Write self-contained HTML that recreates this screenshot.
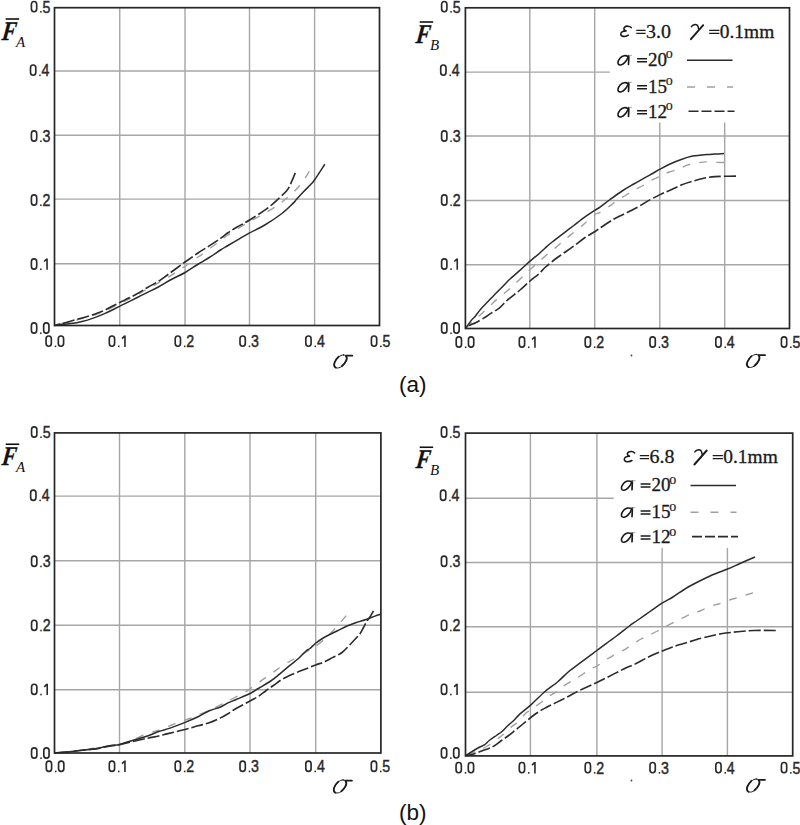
<!DOCTYPE html>
<html><head><meta charset="utf-8"><title>Force vs sigma charts</title>
<style>
html,body{margin:0;padding:0;background:#fff;}
body{width:800px;height:825px;overflow:hidden;position:relative;}
svg{position:absolute;left:0;top:0;display:block;}
.tk{font-family:"Liberation Sans",sans-serif;font-size:16px;fill:#2a2a2a;stroke:#2a2a2a;stroke-width:0.45px;}
.lg{font-family:"Liberation Serif",serif;font-size:18.5px;fill:#1a1a1a;stroke:#1a1a1a;stroke-width:0.3px;}
.gk{font-family:"Liberation Serif",serif;font-style:italic;font-size:20px;fill:#1e1e1e;}
.ab{font-family:"Liberation Sans",sans-serif;font-size:22.5px;fill:#111;}
</style></head><body>
<svg width="800" height="825" viewBox="0 0 800 825">

<path d="M119.75 7.70V325.50M185.00 7.70V325.50M249.50 7.70V325.50M314.60 7.70V325.50M54.50 263.70H379.50M54.50 199.10H379.50M54.50 135.20H379.50M54.50 71.00H379.50" stroke="#a6a6a6" stroke-width="1.4" fill="none"/>
<path d="M309.40 171.25C308.46 172.75 306.00 177.16 303.75 180.25C301.50 183.34 298.71 186.84 295.90 189.80C293.09 192.76 289.72 195.60 286.90 198.00C284.08 200.40 282.75 201.62 279.00 204.20C275.25 206.78 270.02 210.18 264.40 213.50C258.77 216.82 251.44 220.43 245.25 224.10C239.06 227.77 232.00 232.27 227.25 235.50C222.50 238.73 219.50 241.45 216.75 243.50C214.00 245.55 213.31 245.90 210.75 247.80C208.19 249.70 204.03 253.03 201.40 254.90C198.78 256.77 197.69 257.13 195.00 259.00C192.31 260.87 189.54 263.17 185.25 266.10C180.96 269.03 173.17 274.13 169.25 276.60C165.33 279.07 164.38 279.40 161.75 280.90C159.12 282.40 156.12 284.15 153.50 285.60C150.88 287.05 148.88 287.95 146.00 289.60C143.12 291.25 139.75 293.60 136.25 295.50C132.75 297.40 128.75 299.13 125.00 301.00C121.25 302.87 117.17 305.00 113.75 306.70C110.33 308.40 107.29 309.98 104.50 311.20C101.71 312.42 100.12 312.95 97.00 314.00C93.88 315.05 89.50 316.40 85.75 317.50C82.00 318.60 78.88 319.47 74.50 320.60C70.12 321.73 62.83 323.48 59.50 324.30C56.17 325.12 55.33 325.30 54.50 325.50" stroke="#a0a0a0" stroke-width="1.4" fill="none" stroke-dasharray="8 9"/>
<path d="M54.50 325.50C54.96 325.40 54.54 325.22 57.25 324.90C59.96 324.58 66.62 324.17 70.75 323.60C74.88 323.03 78.25 322.42 82.00 321.50C85.75 320.58 89.50 319.42 93.25 318.10C97.00 316.78 101.08 315.08 104.50 313.60C107.92 312.12 110.33 310.92 113.75 309.25C117.17 307.58 121.25 305.48 125.00 303.60C128.75 301.73 132.50 299.87 136.25 298.00C140.00 296.13 143.75 294.27 147.50 292.40C151.25 290.52 154.71 288.94 158.75 286.75C162.79 284.56 167.36 281.62 171.75 279.25C176.14 276.88 180.72 275.00 185.10 272.50C189.47 270.00 193.97 266.75 198.00 264.25C202.03 261.75 205.50 259.88 209.25 257.50C213.00 255.12 217.38 252.00 220.50 250.00C223.62 248.00 225.00 247.28 228.00 245.50C231.00 243.72 234.97 241.37 238.50 239.30C242.03 237.23 244.88 235.44 249.20 233.10C253.52 230.76 259.06 228.43 264.40 225.25C269.74 222.07 276.57 217.56 281.25 214.00C285.93 210.44 289.88 206.43 292.50 203.90C295.12 201.37 295.12 200.87 297.00 198.80C298.88 196.73 301.50 193.84 303.75 191.50C306.00 189.16 308.71 186.67 310.50 184.75C312.29 182.83 312.12 183.42 314.50 180.00C316.88 176.58 323.08 166.88 324.80 164.25" stroke="#2b2b2b" stroke-width="1.5" fill="none"/>
<path d="M295.30 172.90C294.46 174.88 291.65 181.83 290.25 184.75C288.85 187.67 288.77 188.15 286.90 190.40C285.02 192.65 282.38 195.17 279.00 198.25C275.62 201.33 271.57 205.24 266.60 208.90C261.63 212.56 254.26 217.10 249.20 220.20C244.14 223.30 239.78 225.41 236.25 227.50C232.72 229.59 230.62 230.93 228.00 232.75C225.38 234.57 223.62 236.21 220.50 238.40C217.38 240.59 213.00 243.47 209.25 245.90C205.50 248.33 202.03 250.32 198.00 253.00C193.97 255.68 190.10 258.42 185.10 262.00C180.10 265.58 172.39 271.32 168.00 274.50C163.61 277.68 162.17 278.93 158.75 281.10C155.33 283.27 151.25 285.31 147.50 287.50C143.75 289.69 140.00 292.18 136.25 294.25C132.50 296.32 128.75 298.02 125.00 299.90C121.25 301.77 117.17 303.77 113.75 305.50C110.33 307.23 107.29 308.96 104.50 310.25C101.71 311.54 100.12 312.12 97.00 313.25C93.88 314.38 89.50 315.88 85.75 317.00C82.00 318.12 77.62 319.12 74.50 320.00C71.38 320.88 69.50 321.57 67.00 322.25C64.50 322.93 61.58 323.56 59.50 324.10C57.42 324.64 55.33 325.27 54.50 325.50" stroke="#2b2b2b" stroke-width="1.6" fill="none" stroke-dasharray="12 3"/>
<rect x="54.50" y="7.70" width="325.00" height="317.80" fill="none" stroke="#262626" stroke-width="1.7"/>
<rect x="31.40" y="322.90" width="5.3" height="10.2" rx="2.5" ry="2.9" fill="none" stroke="#2a2a2a" stroke-width="1.65"/><rect x="40.10" y="332.45" width="1.5" height="1.6" fill="#2a2a2a"/><rect x="43.65" y="322.90" width="5.3" height="10.2" rx="2.5" ry="2.9" fill="none" stroke="#2a2a2a" stroke-width="1.65"/>
<rect x="31.40" y="258.90" width="5.3" height="10.2" rx="2.5" ry="2.9" fill="none" stroke="#2a2a2a" stroke-width="1.65"/><rect x="40.10" y="268.45" width="1.5" height="1.6" fill="#2a2a2a"/><path d="M47.05 258.40V269.80M46.90 258.80L44.10 261.50" stroke="#2a2a2a" stroke-width="1.6" fill="none"/>
<rect x="31.40" y="194.90" width="5.3" height="10.2" rx="2.5" ry="2.9" fill="none" stroke="#2a2a2a" stroke-width="1.65"/><rect x="40.10" y="204.45" width="1.5" height="1.6" fill="#2a2a2a"/><text class="tk" transform="scale(0.885 1)" x="48.00" y="206.20">2</text>
<rect x="31.40" y="130.90" width="5.3" height="10.2" rx="2.5" ry="2.9" fill="none" stroke="#2a2a2a" stroke-width="1.65"/><rect x="40.10" y="140.45" width="1.5" height="1.6" fill="#2a2a2a"/><text class="tk" transform="scale(0.885 1)" x="48.00" y="142.20">3</text>
<rect x="30.50" y="65.00" width="5.3" height="10.2" rx="2.5" ry="2.9" fill="none" stroke="#2a2a2a" stroke-width="1.65"/><rect x="39.20" y="74.55" width="1.5" height="1.6" fill="#2a2a2a"/><text class="tk" transform="scale(0.885 1)" x="46.98" y="76.30">4</text>
<rect x="31.40" y="1.50" width="5.3" height="10.2" rx="2.5" ry="2.9" fill="none" stroke="#2a2a2a" stroke-width="1.65"/><rect x="40.10" y="11.05" width="1.5" height="1.6" fill="#2a2a2a"/><text class="tk" transform="scale(0.885 1)" x="48.00" y="12.80">5</text>
<rect x="46.05" y="336.00" width="5.3" height="10.2" rx="2.5" ry="2.9" fill="none" stroke="#2a2a2a" stroke-width="1.65"/><rect x="54.75" y="345.55" width="1.5" height="1.6" fill="#2a2a2a"/><rect x="58.30" y="336.00" width="5.3" height="10.2" rx="2.5" ry="2.9" fill="none" stroke="#2a2a2a" stroke-width="1.65"/>
<rect x="109.30" y="336.00" width="5.3" height="10.2" rx="2.5" ry="2.9" fill="none" stroke="#2a2a2a" stroke-width="1.65"/><rect x="118.00" y="345.55" width="1.5" height="1.6" fill="#2a2a2a"/><path d="M124.95 335.50V346.90M124.80 335.90L122.00 338.60" stroke="#2a2a2a" stroke-width="1.6" fill="none"/>
<rect x="175.20" y="336.00" width="5.3" height="10.2" rx="2.5" ry="2.9" fill="none" stroke="#2a2a2a" stroke-width="1.65"/><rect x="183.90" y="345.55" width="1.5" height="1.6" fill="#2a2a2a"/><text class="tk" transform="scale(0.885 1)" x="210.49" y="347.30">2</text>
<rect x="240.00" y="336.00" width="5.3" height="10.2" rx="2.5" ry="2.9" fill="none" stroke="#2a2a2a" stroke-width="1.65"/><rect x="248.70" y="345.55" width="1.5" height="1.6" fill="#2a2a2a"/><text class="tk" transform="scale(0.885 1)" x="283.71" y="347.30">3</text>
<rect x="305.80" y="336.00" width="5.3" height="10.2" rx="2.5" ry="2.9" fill="none" stroke="#2a2a2a" stroke-width="1.65"/><rect x="314.50" y="345.55" width="1.5" height="1.6" fill="#2a2a2a"/><text class="tk" transform="scale(0.885 1)" x="358.06" y="347.30">4</text>
<rect x="371.40" y="336.00" width="5.3" height="10.2" rx="2.5" ry="2.9" fill="none" stroke="#2a2a2a" stroke-width="1.65"/><rect x="380.10" y="345.55" width="1.5" height="1.6" fill="#2a2a2a"/><text class="tk" transform="scale(0.885 1)" x="432.18" y="347.30">5</text>
<text transform="translate(1.20 40.20) skewX(-7) scale(0.8 1)" style="font-family:'Liberation Serif',serif;font-weight:bold;font-style:italic;font-size:27px;fill:#111;stroke:#111;stroke-width:0.3px">F</text>
<path d="M5.70 19.00H19.20" stroke="#111" stroke-width="1.6"/>
<text x="16.00" y="47.00" style="font-family:'Liberation Serif',serif;font-style:italic;font-size:15px;fill:#111">A</text>
<g transform="translate(333.50 354.00)" fill="none" stroke="#1a1a1a" stroke-linecap="round"><path d="M10 0.9C6.5 0.9 2.6 4.6 1.1 8.5C-0.1 11.8 1.3 14.1 4 14C7.5 13.9 11 10.5 12.7 6.6C13.9 3.8 13 0.9 10 0.9Z" stroke-width="1.0"/><path d="M5.2 2.7C3.2 4.6 1.8 6.7 1.1 8.5C0.3 10.8 0.7 12.8 2.3 13.6" stroke-width="1.8"/><path d="M8.3 12.2C10.4 10.4 11.9 8.5 12.7 6.6C13.5 4.7 13.4 3.1 12.5 2" stroke-width="1.8"/><path d="M12.4 1.7L18.8 1.7" stroke-width="1.7"/></g>
<path d="M529.80 7.80V328.50M594.70 7.80V328.50M659.80 122.50V328.50M724.70 122.50V328.50M465.40 264.80H789.50M465.40 200.50H789.50M465.40 136.00H789.50M465.40 72.10H610.00" stroke="#a6a6a6" stroke-width="1.4" fill="none"/>
<path d="M724.00 162.50C722.83 162.48 720.12 162.50 717.00 162.40C713.88 162.30 708.52 161.82 705.25 161.90C701.98 161.98 700.40 162.37 697.40 162.90C694.40 163.43 690.32 164.08 687.25 165.10C684.18 166.12 682.12 167.81 679.00 169.00C675.88 170.19 671.50 171.08 668.50 172.25C665.50 173.42 663.85 174.67 661.00 176.00C658.15 177.33 654.38 178.67 651.40 180.25C648.42 181.83 645.98 183.88 643.10 185.50C640.22 187.12 636.78 188.50 634.10 190.00C631.42 191.50 629.93 192.68 627.00 194.50C624.07 196.32 619.25 199.08 616.50 200.90C613.75 202.72 613.25 203.50 610.50 205.40C607.75 207.30 602.50 210.83 600.00 212.30C597.50 213.78 597.88 212.55 595.50 214.25C593.12 215.95 588.43 220.19 585.75 222.50C583.07 224.81 581.90 226.03 579.40 228.10C576.90 230.17 573.32 232.83 570.75 234.90C568.18 236.97 566.38 238.50 564.00 240.50C561.62 242.50 558.88 244.97 556.50 246.90C554.12 248.83 552.18 250.08 549.75 252.10C547.32 254.12 544.15 257.02 541.90 259.00C539.65 260.98 538.75 261.75 536.25 264.00C533.75 266.25 529.40 270.15 526.90 272.50C524.40 274.85 523.67 275.87 521.25 278.10C518.83 280.33 514.82 283.71 512.40 285.90C509.98 288.09 509.05 289.27 506.75 291.25C504.45 293.23 500.99 295.78 498.60 297.80C496.21 299.82 494.79 301.16 492.40 303.40C490.01 305.64 486.55 309.11 484.25 311.25C481.95 313.39 481.73 313.38 478.60 316.25C475.48 319.12 467.68 326.46 465.50 328.50" stroke="#a0a0a0" stroke-width="1.4" fill="none" stroke-dasharray="8 9"/>
<path d="M465.50 328.50C466.43 327.18 469.43 322.70 471.10 320.60C472.77 318.50 473.93 317.77 475.50 315.90C477.07 314.03 478.42 311.78 480.50 309.40C482.58 307.02 485.71 304.00 488.00 301.60C490.29 299.20 491.96 297.35 494.25 295.00C496.54 292.65 499.36 289.95 501.75 287.50C504.14 285.05 506.81 282.07 508.60 280.30C510.39 278.53 509.87 279.24 512.50 276.90C515.13 274.56 521.38 268.97 524.40 266.25C527.42 263.53 528.21 262.64 530.60 260.60C532.99 258.56 536.35 256.07 538.75 254.00C541.15 251.93 542.92 250.07 545.00 248.20C547.08 246.32 548.33 245.10 551.25 242.75C554.17 240.40 558.75 236.97 562.50 234.10C566.25 231.22 570.00 228.37 573.75 225.50C577.50 222.63 581.44 219.47 585.00 216.90C588.56 214.33 592.60 211.73 595.10 210.10C597.60 208.47 597.56 208.82 600.00 207.10C602.44 205.38 606.00 202.47 609.75 199.75C613.50 197.03 618.50 193.38 622.50 190.75C626.50 188.12 630.00 186.19 633.75 184.00C637.50 181.81 641.88 179.35 645.00 177.60C648.12 175.85 650.00 174.90 652.50 173.50C655.00 172.10 657.08 170.78 660.00 169.20C662.92 167.62 666.46 165.62 670.00 164.00C673.54 162.38 677.50 160.82 681.25 159.50C685.00 158.18 689.38 156.82 692.50 156.10C695.62 155.38 697.50 155.47 700.00 155.20C702.50 154.93 705.00 154.68 707.50 154.50C710.00 154.32 712.25 154.25 715.00 154.10C717.75 153.95 722.50 153.68 724.00 153.60" stroke="#2b2b2b" stroke-width="1.5" fill="none"/>
<path d="M736.00 176.10C733.83 176.13 726.50 176.22 723.00 176.30C719.50 176.38 718.21 176.28 715.00 176.60C711.79 176.92 707.50 177.47 703.75 178.25C700.00 179.03 696.25 180.12 692.50 181.25C688.75 182.38 685.00 183.50 681.25 185.00C677.50 186.50 673.54 188.65 670.00 190.25C666.46 191.85 663.67 192.82 660.00 194.60C656.33 196.38 651.75 198.79 648.00 200.90C644.25 203.01 641.38 205.13 637.50 207.25C633.62 209.37 628.75 211.60 624.75 213.60C620.75 215.60 617.62 216.83 613.50 219.25C609.38 221.67 603.07 226.06 600.00 228.10C596.93 230.14 597.60 229.93 595.10 231.50C592.60 233.07 588.56 235.07 585.00 237.50C581.44 239.93 577.50 243.35 573.75 246.10C570.00 248.85 565.62 251.81 562.50 254.00C559.38 256.19 557.92 257.00 555.00 259.25C552.08 261.50 547.71 265.04 545.00 267.50C542.29 269.96 541.25 271.75 538.75 274.00C536.25 276.25 533.12 278.33 530.00 281.00C526.88 283.67 523.04 287.40 520.00 290.00C516.96 292.60 514.07 294.73 511.75 296.60C509.43 298.48 508.18 299.33 506.10 301.25C504.02 303.17 502.06 305.91 499.25 308.10C496.44 310.29 491.33 313.04 489.25 314.40C487.17 315.76 488.94 314.90 486.75 316.25C484.56 317.60 479.02 320.94 476.10 322.50C473.18 324.06 471.02 324.60 469.25 325.60C467.48 326.60 466.12 328.02 465.50 328.50" stroke="#2b2b2b" stroke-width="1.6" fill="none" stroke-dasharray="12 3"/>
<rect x="465.40" y="7.80" width="324.10" height="320.70" fill="none" stroke="#262626" stroke-width="1.7"/>
<rect x="441.60" y="322.90" width="5.3" height="10.2" rx="2.5" ry="2.9" fill="none" stroke="#2a2a2a" stroke-width="1.65"/><rect x="450.30" y="332.45" width="1.5" height="1.6" fill="#2a2a2a"/><rect x="453.85" y="322.90" width="5.3" height="10.2" rx="2.5" ry="2.9" fill="none" stroke="#2a2a2a" stroke-width="1.65"/>
<rect x="441.60" y="258.90" width="5.3" height="10.2" rx="2.5" ry="2.9" fill="none" stroke="#2a2a2a" stroke-width="1.65"/><rect x="450.30" y="268.45" width="1.5" height="1.6" fill="#2a2a2a"/><path d="M457.25 258.40V269.80M457.10 258.80L454.30 261.50" stroke="#2a2a2a" stroke-width="1.6" fill="none"/>
<rect x="441.60" y="194.90" width="5.3" height="10.2" rx="2.5" ry="2.9" fill="none" stroke="#2a2a2a" stroke-width="1.65"/><rect x="450.30" y="204.45" width="1.5" height="1.6" fill="#2a2a2a"/><text class="tk" transform="scale(0.885 1)" x="511.50" y="206.20">2</text>
<rect x="441.60" y="130.90" width="5.3" height="10.2" rx="2.5" ry="2.9" fill="none" stroke="#2a2a2a" stroke-width="1.65"/><rect x="450.30" y="140.45" width="1.5" height="1.6" fill="#2a2a2a"/><text class="tk" transform="scale(0.885 1)" x="511.50" y="142.20">3</text>
<rect x="440.70" y="65.00" width="5.3" height="10.2" rx="2.5" ry="2.9" fill="none" stroke="#2a2a2a" stroke-width="1.65"/><rect x="449.40" y="74.55" width="1.5" height="1.6" fill="#2a2a2a"/><text class="tk" transform="scale(0.885 1)" x="510.49" y="76.30">4</text>
<rect x="441.60" y="1.50" width="5.3" height="10.2" rx="2.5" ry="2.9" fill="none" stroke="#2a2a2a" stroke-width="1.65"/><rect x="450.30" y="11.05" width="1.5" height="1.6" fill="#2a2a2a"/><text class="tk" transform="scale(0.885 1)" x="511.50" y="12.80">5</text>
<rect x="456.20" y="336.90" width="5.3" height="10.2" rx="2.5" ry="2.9" fill="none" stroke="#2a2a2a" stroke-width="1.65"/><rect x="464.90" y="346.45" width="1.5" height="1.6" fill="#2a2a2a"/><rect x="468.45" y="336.90" width="5.3" height="10.2" rx="2.5" ry="2.9" fill="none" stroke="#2a2a2a" stroke-width="1.65"/>
<rect x="519.30" y="336.90" width="5.3" height="10.2" rx="2.5" ry="2.9" fill="none" stroke="#2a2a2a" stroke-width="1.65"/><rect x="528.00" y="346.45" width="1.5" height="1.6" fill="#2a2a2a"/><path d="M534.95 336.40V347.80M534.80 336.80L532.00 339.50" stroke="#2a2a2a" stroke-width="1.6" fill="none"/>
<rect x="585.20" y="336.90" width="5.3" height="10.2" rx="2.5" ry="2.9" fill="none" stroke="#2a2a2a" stroke-width="1.65"/><rect x="593.90" y="346.45" width="1.5" height="1.6" fill="#2a2a2a"/><text class="tk" transform="scale(0.885 1)" x="673.76" y="348.20">2</text>
<rect x="650.00" y="336.90" width="5.3" height="10.2" rx="2.5" ry="2.9" fill="none" stroke="#2a2a2a" stroke-width="1.65"/><rect x="658.70" y="346.45" width="1.5" height="1.6" fill="#2a2a2a"/><text class="tk" transform="scale(0.885 1)" x="746.98" y="348.20">3</text>
<rect x="715.80" y="336.90" width="5.3" height="10.2" rx="2.5" ry="2.9" fill="none" stroke="#2a2a2a" stroke-width="1.65"/><rect x="724.50" y="346.45" width="1.5" height="1.6" fill="#2a2a2a"/><text class="tk" transform="scale(0.885 1)" x="821.33" y="348.20">4</text>
<rect x="781.40" y="336.90" width="5.3" height="10.2" rx="2.5" ry="2.9" fill="none" stroke="#2a2a2a" stroke-width="1.65"/><rect x="790.10" y="346.45" width="1.5" height="1.6" fill="#2a2a2a"/><text class="tk" transform="scale(0.885 1)" x="895.46" y="348.20">5</text>
<text transform="translate(415.20 43.20) skewX(-7) scale(0.8 1)" style="font-family:'Liberation Serif',serif;font-weight:bold;font-style:italic;font-size:27px;fill:#111;stroke:#111;stroke-width:0.3px">F</text>
<path d="M419.70 22.00H433.20" stroke="#111" stroke-width="1.6"/>
<text x="430.00" y="50.00" style="font-family:'Liberation Serif',serif;font-style:italic;font-size:15px;fill:#111">B</text>
<g transform="translate(746.25 353.50)" fill="none" stroke="#1a1a1a" stroke-linecap="round"><path d="M10 0.9C6.5 0.9 2.6 4.6 1.1 8.5C-0.1 11.8 1.3 14.1 4 14C7.5 13.9 11 10.5 12.7 6.6C13.9 3.8 13 0.9 10 0.9Z" stroke-width="1.0"/><path d="M5.2 2.7C3.2 4.6 1.8 6.7 1.1 8.5C0.3 10.8 0.7 12.8 2.3 13.6" stroke-width="1.8"/><path d="M8.3 12.2C10.4 10.4 11.9 8.5 12.7 6.6C13.5 4.7 13.4 3.1 12.5 2" stroke-width="1.8"/><path d="M12.4 1.7L18.8 1.7" stroke-width="1.7"/></g>
<g transform="translate(0.00 0.00)"><path d="M631.2 27.6C629.6 25.8 626.2 25.7 624.6 27.1C623.2 28.4 623.8 30.6 626.6 30.9C622.4 30.8 620.6 32.4 620.8 34.3C621 36.6 625.4 37.2 628.4 35.2" fill="none" stroke="#1a1a1a" stroke-width="1.55" stroke-linecap="round"/><path d="M636.3 30.3H645.6M636.3 33.4H645.6M709.2 30.3H719.4M709.2 33.4H719.4" stroke="#1a1a1a" stroke-width="1.35"/><text class="lg" transform="translate(645.95 37.6) scale(1.08 0.97)">3.0</text><path d="M691.4 26.6C692.8 24.6 695.6 23.9 697.2 25.1C698.2 25.9 698.4 27.4 698.6 28.8" fill="none" stroke="#1a1a1a" stroke-width="1.5" stroke-linecap="round"/><path d="M703.2 25.2L690.9 39.2" fill="none" stroke="#1a1a1a" stroke-width="1.9" stroke-linecap="round"/><text class="lg" transform="translate(719.8 37.6) scale(1.05 0.97)">0.1mm</text><g transform="translate(0 0.00)" fill="none" stroke-linecap="round"><path d="M627.9 56.7C626 55 622.4 55.3 620.2 58C618.2 60.4 617.4 63 618.6 64.4C619.8 65.6 622.6 64.6 624.6 62.6C626.2 61 627.4 59 628.1 57.2" stroke="#1a1a1a" stroke-width="1.6"/><path d="M628.7 55.6C629 58.5 628.6 61.5 628.5 64.4" stroke="#1a1a1a" stroke-width="1.7"/><path d="M629 55.6L631.5 55.3" stroke="#999" stroke-width="0.9"/></g><path d="M637.1 58.75H647M637.1 61.75H647" stroke="#1a1a1a" stroke-width="1.35"/><text class="lg" transform="translate(647.9 65.60) scale(1.03 0.97)">20</text><text class="lg" x="665.8" y="58.30" style="font-size:14px;stroke-width:0.2px">o</text><g transform="translate(0 27.00)" fill="none" stroke-linecap="round"><path d="M627.9 56.7C626 55 622.4 55.3 620.2 58C618.2 60.4 617.4 63 618.6 64.4C619.8 65.6 622.6 64.6 624.6 62.6C626.2 61 627.4 59 628.1 57.2" stroke="#1a1a1a" stroke-width="1.6"/><path d="M628.7 55.6C629 58.5 628.6 61.5 628.5 64.4" stroke="#1a1a1a" stroke-width="1.7"/><path d="M629 55.6L631.5 55.3" stroke="#999" stroke-width="0.9"/></g><path d="M637.1 85.75H647M637.1 88.75H647" stroke="#1a1a1a" stroke-width="1.35"/><text class="lg" transform="translate(647.9 92.60) scale(1.03 0.97)">15</text><text class="lg" x="665.8" y="85.30" style="font-size:14px;stroke-width:0.2px">o</text><g transform="translate(0 52.00)" fill="none" stroke-linecap="round"><path d="M627.9 56.7C626 55 622.4 55.3 620.2 58C618.2 60.4 617.4 63 618.6 64.4C619.8 65.6 622.6 64.6 624.6 62.6C626.2 61 627.4 59 628.1 57.2" stroke="#1a1a1a" stroke-width="1.6"/><path d="M628.7 55.6C629 58.5 628.6 61.5 628.5 64.4" stroke="#1a1a1a" stroke-width="1.7"/><path d="M629 55.6L631.5 55.3" stroke="#999" stroke-width="0.9"/></g><path d="M637.1 110.75H647M637.1 113.75H647" stroke="#1a1a1a" stroke-width="1.35"/><text class="lg" transform="translate(647.9 117.60) scale(1.03 0.97)">12</text><text class="lg" x="665.8" y="110.30" style="font-size:14px;stroke-width:0.2px">o</text><path d="M687 60.3H732.5" stroke="#2b2b2b" stroke-width="1.5"/><path d="M687 87H733" stroke="#a0a0a0" stroke-width="1.5" stroke-dasharray="8 12"/><path d="M688.5 111.3H734.5" stroke="#2b2b2b" stroke-width="1.6" stroke-dasharray="10 3"/></g>
<path d="M119.50 432.90V753.00M184.80 432.90V753.00M250.00 432.90V753.00M315.70 432.90V753.00M54.50 689.70H380.90M54.50 625.30H380.90M54.50 560.80H380.90M54.50 496.10H380.90" stroke="#a6a6a6" stroke-width="1.4" fill="none"/>
<path d="M346.10 615.75C344.67 617.44 340.64 622.39 337.50 625.90C334.36 629.41 329.46 634.53 327.25 636.80C325.04 639.07 326.25 637.88 324.25 639.50C322.25 641.12 317.62 644.82 315.25 646.50C312.88 648.18 312.88 647.88 310.00 649.60C307.12 651.32 301.12 654.98 298.00 656.80C294.88 658.62 294.10 658.87 291.25 660.50C288.40 662.13 283.76 664.73 280.90 666.60C278.04 668.48 276.60 669.95 274.10 671.75C271.60 673.55 268.58 675.52 265.90 677.40C263.22 679.27 260.94 680.88 258.00 683.00C255.06 685.12 250.88 688.35 248.25 690.10C245.62 691.85 244.88 692.06 242.25 693.50C239.62 694.94 235.12 697.38 232.50 698.75C229.88 700.12 229.50 700.19 226.50 701.75C223.50 703.31 217.50 706.60 214.50 708.10C211.50 709.60 211.38 709.56 208.50 710.75C205.62 711.94 200.25 714.00 197.25 715.25C194.25 716.50 193.50 717.12 190.50 718.25C187.50 719.38 182.38 720.88 179.25 722.00C176.12 723.12 174.79 723.79 171.75 725.00C168.71 726.21 163.92 728.17 161.00 729.25C158.08 730.33 157.25 730.50 154.25 731.50C151.25 732.50 145.38 734.38 143.00 735.25C140.62 736.12 141.75 735.96 140.00 736.75C138.25 737.54 135.90 738.76 132.50 740.00C129.10 741.24 123.35 743.27 119.60 744.20C115.85 745.13 116.27 744.62 110.00 745.60C103.73 746.58 91.25 748.87 82.00 750.10C72.75 751.33 59.08 752.52 54.50 753.00" stroke="#a0a0a0" stroke-width="1.4" fill="none" stroke-dasharray="8 9"/>
<path d="M54.50 753.00C56.58 752.85 62.42 752.56 67.00 752.10C71.58 751.64 77.00 750.87 82.00 750.25C87.00 749.63 92.33 749.15 97.00 748.40C101.67 747.65 106.23 746.42 110.00 745.75C113.77 745.08 115.85 745.27 119.60 744.40C123.35 743.52 127.85 741.90 132.50 740.50C137.15 739.10 143.12 737.50 147.50 736.00C151.88 734.50 155.00 732.82 158.75 731.50C162.50 730.18 165.61 729.62 170.00 728.10C174.39 726.58 180.43 724.29 185.10 722.40C189.77 720.51 193.97 718.69 198.00 716.75C202.03 714.81 205.50 712.38 209.25 710.75C213.00 709.12 217.38 708.31 220.50 707.00C223.62 705.69 225.38 704.15 228.00 702.90C230.62 701.65 232.57 701.07 236.25 699.50C239.93 697.93 246.35 695.38 250.10 693.50C253.85 691.62 255.43 690.25 258.75 688.25C262.07 686.25 266.88 683.56 270.00 681.50C273.12 679.44 274.33 678.47 277.50 675.90C280.67 673.33 285.46 669.04 289.00 666.10C292.54 663.16 295.88 660.81 298.75 658.25C301.62 655.69 304.38 652.38 306.25 650.75C308.12 649.12 308.44 649.75 310.00 648.50C311.56 647.25 313.60 644.88 315.60 643.25C317.60 641.62 319.81 640.12 322.00 638.75C324.19 637.38 326.17 636.33 328.75 635.00C331.33 633.67 334.54 632.21 337.50 630.75C340.46 629.29 343.38 627.62 346.50 626.25C349.62 624.88 353.00 623.62 356.25 622.50C359.50 621.38 362.88 620.57 366.00 619.50C369.12 618.43 372.52 616.98 375.00 616.10C377.48 615.23 379.92 614.56 380.90 614.25" stroke="#2b2b2b" stroke-width="1.5" fill="none"/>
<path d="M373.50 610.90C373.00 611.77 371.50 614.54 370.50 616.10C369.50 617.66 368.62 618.43 367.50 620.25C366.38 622.07 365.00 624.75 363.75 627.00C362.50 629.25 361.88 631.25 360.00 633.75C358.12 636.25 355.50 638.88 352.50 642.00C349.50 645.12 345.33 649.90 342.00 652.50C338.67 655.10 335.33 656.08 332.50 657.60C329.67 659.12 327.82 660.37 325.00 661.60C322.18 662.83 318.73 663.81 315.60 665.00C312.48 666.19 309.68 667.38 306.25 668.75C302.82 670.12 299.00 671.50 295.00 673.25C291.00 675.00 285.79 677.25 282.25 679.25C278.71 681.25 276.42 683.38 273.75 685.25C271.08 687.12 268.75 688.69 266.25 690.50C263.75 692.31 261.44 694.35 258.75 696.10C256.06 697.85 254.10 698.81 250.10 701.00C246.10 703.19 238.43 707.12 234.75 709.25C231.07 711.38 230.38 712.31 228.00 713.75C225.62 715.19 223.62 716.40 220.50 717.90C217.38 719.40 213.00 721.44 209.25 722.75C205.50 724.06 202.03 724.62 198.00 725.75C193.97 726.88 190.10 728.19 185.10 729.50C180.10 730.81 172.39 732.52 168.00 733.60C163.61 734.68 162.17 735.23 158.75 736.00C155.33 736.77 151.88 737.32 147.50 738.25C143.12 739.18 137.15 740.51 132.50 741.60C127.85 742.69 123.35 744.08 119.60 744.80C115.85 745.52 113.77 745.27 110.00 745.90C106.23 746.53 101.67 747.88 97.00 748.60C92.33 749.33 87.00 749.67 82.00 750.25C77.00 750.83 71.58 751.64 67.00 752.10C62.42 752.56 56.58 752.85 54.50 753.00" stroke="#2b2b2b" stroke-width="1.6" fill="none" stroke-dasharray="12 3"/>
<rect x="54.50" y="432.90" width="326.40" height="320.10" fill="none" stroke="#262626" stroke-width="1.7"/>
<rect x="31.55" y="747.90" width="5.3" height="10.2" rx="2.5" ry="2.9" fill="none" stroke="#2a2a2a" stroke-width="1.65"/><rect x="40.25" y="757.45" width="1.5" height="1.6" fill="#2a2a2a"/><rect x="43.80" y="747.90" width="5.3" height="10.2" rx="2.5" ry="2.9" fill="none" stroke="#2a2a2a" stroke-width="1.65"/>
<rect x="31.55" y="684.20" width="5.3" height="10.2" rx="2.5" ry="2.9" fill="none" stroke="#2a2a2a" stroke-width="1.65"/><rect x="40.25" y="693.75" width="1.5" height="1.6" fill="#2a2a2a"/><path d="M47.20 683.70V695.10M47.05 684.10L44.25 686.80" stroke="#2a2a2a" stroke-width="1.6" fill="none"/>
<rect x="31.55" y="620.20" width="5.3" height="10.2" rx="2.5" ry="2.9" fill="none" stroke="#2a2a2a" stroke-width="1.65"/><rect x="40.25" y="629.75" width="1.5" height="1.6" fill="#2a2a2a"/><text class="tk" transform="scale(0.885 1)" x="48.17" y="631.50">2</text>
<rect x="31.55" y="556.10" width="5.3" height="10.2" rx="2.5" ry="2.9" fill="none" stroke="#2a2a2a" stroke-width="1.65"/><rect x="40.25" y="565.65" width="1.5" height="1.6" fill="#2a2a2a"/><text class="tk" transform="scale(0.885 1)" x="48.17" y="567.40">3</text>
<rect x="30.65" y="490.10" width="5.3" height="10.2" rx="2.5" ry="2.9" fill="none" stroke="#2a2a2a" stroke-width="1.65"/><rect x="39.35" y="499.65" width="1.5" height="1.6" fill="#2a2a2a"/><text class="tk" transform="scale(0.885 1)" x="47.15" y="501.40">4</text>
<rect x="31.55" y="426.90" width="5.3" height="10.2" rx="2.5" ry="2.9" fill="none" stroke="#2a2a2a" stroke-width="1.65"/><rect x="40.25" y="436.45" width="1.5" height="1.6" fill="#2a2a2a"/><text class="tk" transform="scale(0.885 1)" x="48.17" y="438.20">5</text>
<rect x="46.30" y="761.10" width="5.3" height="10.2" rx="2.5" ry="2.9" fill="none" stroke="#2a2a2a" stroke-width="1.65"/><rect x="55.00" y="770.65" width="1.5" height="1.6" fill="#2a2a2a"/><rect x="58.55" y="761.10" width="5.3" height="10.2" rx="2.5" ry="2.9" fill="none" stroke="#2a2a2a" stroke-width="1.65"/>
<rect x="109.30" y="761.10" width="5.3" height="10.2" rx="2.5" ry="2.9" fill="none" stroke="#2a2a2a" stroke-width="1.65"/><rect x="118.00" y="770.65" width="1.5" height="1.6" fill="#2a2a2a"/><path d="M124.95 760.60V772.00M124.80 761.00L122.00 763.70" stroke="#2a2a2a" stroke-width="1.6" fill="none"/>
<rect x="175.20" y="761.10" width="5.3" height="10.2" rx="2.5" ry="2.9" fill="none" stroke="#2a2a2a" stroke-width="1.65"/><rect x="183.90" y="770.65" width="1.5" height="1.6" fill="#2a2a2a"/><text class="tk" transform="scale(0.885 1)" x="210.49" y="772.40">2</text>
<rect x="240.00" y="761.10" width="5.3" height="10.2" rx="2.5" ry="2.9" fill="none" stroke="#2a2a2a" stroke-width="1.65"/><rect x="248.70" y="770.65" width="1.5" height="1.6" fill="#2a2a2a"/><text class="tk" transform="scale(0.885 1)" x="283.71" y="772.40">3</text>
<rect x="305.80" y="761.10" width="5.3" height="10.2" rx="2.5" ry="2.9" fill="none" stroke="#2a2a2a" stroke-width="1.65"/><rect x="314.50" y="770.65" width="1.5" height="1.6" fill="#2a2a2a"/><text class="tk" transform="scale(0.885 1)" x="358.06" y="772.40">4</text>
<rect x="371.30" y="761.10" width="5.3" height="10.2" rx="2.5" ry="2.9" fill="none" stroke="#2a2a2a" stroke-width="1.65"/><rect x="380.00" y="770.65" width="1.5" height="1.6" fill="#2a2a2a"/><text class="tk" transform="scale(0.885 1)" x="432.07" y="772.40">5</text>
<text transform="translate(1.20 465.45) skewX(-7) scale(0.8 1)" style="font-family:'Liberation Serif',serif;font-weight:bold;font-style:italic;font-size:27px;fill:#111;stroke:#111;stroke-width:0.3px">F</text>
<path d="M5.70 444.25H19.20" stroke="#111" stroke-width="1.6"/>
<text x="16.00" y="472.25" style="font-family:'Liberation Serif',serif;font-style:italic;font-size:15px;fill:#111">A</text>
<g transform="translate(333.10 779.00)" fill="none" stroke="#1a1a1a" stroke-linecap="round"><path d="M10 0.9C6.5 0.9 2.6 4.6 1.1 8.5C-0.1 11.8 1.3 14.1 4 14C7.5 13.9 11 10.5 12.7 6.6C13.9 3.8 13 0.9 10 0.9Z" stroke-width="1.0"/><path d="M5.2 2.7C3.2 4.6 1.8 6.7 1.1 8.5C0.3 10.8 0.7 12.8 2.3 13.6" stroke-width="1.8"/><path d="M8.3 12.2C10.4 10.4 11.9 8.5 12.7 6.6C13.5 4.7 13.4 3.1 12.5 2" stroke-width="1.8"/><path d="M12.4 1.7L18.8 1.7" stroke-width="1.7"/></g>
<path d="M530.40 433.10V755.90M596.90 433.10V755.90M662.10 548.00V755.90M727.40 548.00V755.90M465.50 692.20H792.70M465.50 626.70H792.70M465.50 562.50H792.70M465.50 498.20H613.75" stroke="#a6a6a6" stroke-width="1.4" fill="none"/>
<path d="M753.00 592.80C752.08 593.08 750.00 593.72 747.50 594.50C745.00 595.28 741.00 596.58 738.00 597.50C735.00 598.42 732.75 598.92 729.50 600.00C726.25 601.08 721.58 603.00 718.50 604.00C715.42 605.00 714.08 604.83 711.00 606.00C707.92 607.17 703.17 609.75 700.00 611.00C696.83 612.25 694.90 612.35 692.00 613.50C689.10 614.65 685.42 616.55 682.60 617.90C679.78 619.25 678.16 620.04 675.10 621.60C672.04 623.16 667.18 625.68 664.25 627.25C661.32 628.82 660.12 629.62 657.50 631.00C654.88 632.38 651.32 634.12 648.50 635.50C645.68 636.88 643.53 637.60 640.60 639.25C637.67 640.90 633.65 643.62 630.90 645.40C628.15 647.17 626.79 648.34 624.10 649.90C621.41 651.46 617.68 653.19 614.75 654.75C611.82 656.31 609.25 657.50 606.50 659.25C603.75 661.00 601.00 663.56 598.25 665.25C595.50 666.94 593.04 667.61 590.00 669.40C586.96 671.19 582.67 674.27 580.00 676.00C577.33 677.73 576.57 678.18 574.00 679.75C571.43 681.32 567.35 683.52 564.60 685.40C561.85 687.27 560.18 689.13 557.50 691.00C554.82 692.87 551.18 694.73 548.50 696.60C545.82 698.48 544.02 700.31 541.40 702.25C538.77 704.19 535.32 706.44 532.75 708.25C530.18 710.06 528.44 710.85 526.00 713.10C523.56 715.35 520.48 719.50 518.10 721.75C515.73 724.00 514.25 724.48 511.75 726.60C509.25 728.73 505.60 732.37 503.10 734.50C500.60 736.63 499.31 737.52 496.75 739.40C494.19 741.27 490.50 744.07 487.75 745.75C485.00 747.43 482.88 748.29 480.25 749.50C477.62 750.71 474.46 751.96 472.00 753.00C469.54 754.04 466.58 755.29 465.50 755.75" stroke="#a0a0a0" stroke-width="1.4" fill="none" stroke-dasharray="8 9"/>
<path d="M465.50 755.75C466.33 755.21 468.42 753.79 470.50 752.50C472.58 751.21 475.62 749.32 478.00 748.00C480.38 746.68 482.88 745.85 484.75 744.60C486.62 743.35 487.25 742.06 489.25 740.50C491.25 738.94 494.62 736.75 496.75 735.25C498.88 733.75 500.12 733.12 502.00 731.50C503.88 729.88 506.00 727.38 508.00 725.50C510.00 723.62 512.00 722.18 514.00 720.25C516.00 718.32 517.18 716.46 520.00 713.90C522.82 711.34 526.77 708.59 530.90 704.90C535.02 701.21 540.32 695.57 544.75 691.75C549.18 687.93 553.50 685.38 557.50 682.00C561.50 678.62 565.25 674.47 568.75 671.50C572.25 668.53 573.77 667.74 578.50 664.20C583.23 660.66 590.93 654.83 597.10 650.25C603.27 645.67 610.18 640.75 615.50 636.75C620.82 632.75 625.38 628.96 629.00 626.25C632.62 623.54 633.75 622.96 637.25 620.50C640.75 618.04 645.81 614.43 650.00 611.50C654.19 608.57 658.65 605.27 662.40 602.90C666.15 600.52 668.94 599.44 672.50 597.25C676.06 595.06 680.83 591.62 683.75 589.75C686.67 587.88 685.62 588.29 690.00 586.00C694.38 583.71 703.75 578.83 710.00 576.00C716.25 573.17 722.50 571.08 727.50 569.00C732.50 566.92 735.42 565.50 740.00 563.50C744.58 561.50 752.50 558.08 755.00 557.00" stroke="#2b2b2b" stroke-width="1.5" fill="none"/>
<path d="M775.75 630.50C772.12 630.50 760.38 630.28 754.00 630.50C747.62 630.72 743.00 631.26 737.50 631.80C732.00 632.34 727.25 632.63 721.00 633.75C714.75 634.87 704.33 637.44 700.00 638.50C695.67 639.56 697.71 639.27 695.00 640.10C692.29 640.93 687.50 642.37 683.75 643.50C680.00 644.63 676.06 645.65 672.50 646.90C668.94 648.15 666.15 649.44 662.40 651.00C658.65 652.56 654.57 654.07 650.00 656.25C645.43 658.43 638.88 662.23 635.00 664.10C631.12 665.98 630.25 665.87 626.75 667.50C623.25 669.13 618.98 671.39 614.00 673.90C609.02 676.41 602.64 679.77 596.85 682.55C591.06 685.33 583.93 688.32 579.25 690.60C574.57 692.88 572.38 694.37 568.75 696.25C565.12 698.13 561.25 700.02 557.50 701.90C553.75 703.77 550.00 705.44 546.25 707.50C542.50 709.56 538.88 711.50 535.00 714.25C531.12 717.00 526.25 721.38 523.00 724.00C519.75 726.62 518.00 728.00 515.50 730.00C513.00 732.00 510.50 734.12 508.00 736.00C505.50 737.88 503.00 739.50 500.50 741.25C498.00 743.00 496.12 744.88 493.00 746.50C489.88 748.12 485.25 749.68 481.75 751.00C478.25 752.32 474.71 753.61 472.00 754.40C469.29 755.19 466.58 755.52 465.50 755.75" stroke="#2b2b2b" stroke-width="1.6" fill="none" stroke-dasharray="12 3"/>
<rect x="465.50" y="433.10" width="327.20" height="322.80" fill="none" stroke="#262626" stroke-width="1.7"/>
<rect x="441.40" y="747.80" width="5.3" height="10.2" rx="2.5" ry="2.9" fill="none" stroke="#2a2a2a" stroke-width="1.65"/><rect x="450.10" y="757.35" width="1.5" height="1.6" fill="#2a2a2a"/><rect x="453.65" y="747.80" width="5.3" height="10.2" rx="2.5" ry="2.9" fill="none" stroke="#2a2a2a" stroke-width="1.65"/>
<rect x="441.40" y="684.20" width="5.3" height="10.2" rx="2.5" ry="2.9" fill="none" stroke="#2a2a2a" stroke-width="1.65"/><rect x="450.10" y="693.75" width="1.5" height="1.6" fill="#2a2a2a"/><path d="M457.05 683.70V695.10M456.90 684.10L454.10 686.80" stroke="#2a2a2a" stroke-width="1.6" fill="none"/>
<rect x="441.40" y="620.20" width="5.3" height="10.2" rx="2.5" ry="2.9" fill="none" stroke="#2a2a2a" stroke-width="1.65"/><rect x="450.10" y="629.75" width="1.5" height="1.6" fill="#2a2a2a"/><text class="tk" transform="scale(0.885 1)" x="511.28" y="631.50">2</text>
<rect x="441.40" y="556.10" width="5.3" height="10.2" rx="2.5" ry="2.9" fill="none" stroke="#2a2a2a" stroke-width="1.65"/><rect x="450.10" y="565.65" width="1.5" height="1.6" fill="#2a2a2a"/><text class="tk" transform="scale(0.885 1)" x="511.28" y="567.40">3</text>
<rect x="440.50" y="490.10" width="5.3" height="10.2" rx="2.5" ry="2.9" fill="none" stroke="#2a2a2a" stroke-width="1.65"/><rect x="449.20" y="499.65" width="1.5" height="1.6" fill="#2a2a2a"/><text class="tk" transform="scale(0.885 1)" x="510.26" y="501.40">4</text>
<rect x="441.40" y="426.90" width="5.3" height="10.2" rx="2.5" ry="2.9" fill="none" stroke="#2a2a2a" stroke-width="1.65"/><rect x="450.10" y="436.45" width="1.5" height="1.6" fill="#2a2a2a"/><text class="tk" transform="scale(0.885 1)" x="511.28" y="438.20">5</text>
<rect x="456.05" y="762.50" width="5.3" height="10.2" rx="2.5" ry="2.9" fill="none" stroke="#2a2a2a" stroke-width="1.65"/><rect x="464.75" y="772.05" width="1.5" height="1.6" fill="#2a2a2a"/><rect x="468.30" y="762.50" width="5.3" height="10.2" rx="2.5" ry="2.9" fill="none" stroke="#2a2a2a" stroke-width="1.65"/>
<rect x="519.30" y="762.50" width="5.3" height="10.2" rx="2.5" ry="2.9" fill="none" stroke="#2a2a2a" stroke-width="1.65"/><rect x="528.00" y="772.05" width="1.5" height="1.6" fill="#2a2a2a"/><path d="M534.95 762.00V773.40M534.80 762.40L532.00 765.10" stroke="#2a2a2a" stroke-width="1.6" fill="none"/>
<rect x="585.20" y="762.50" width="5.3" height="10.2" rx="2.5" ry="2.9" fill="none" stroke="#2a2a2a" stroke-width="1.65"/><rect x="593.90" y="772.05" width="1.5" height="1.6" fill="#2a2a2a"/><text class="tk" transform="scale(0.885 1)" x="673.76" y="773.80">2</text>
<rect x="650.00" y="762.50" width="5.3" height="10.2" rx="2.5" ry="2.9" fill="none" stroke="#2a2a2a" stroke-width="1.65"/><rect x="658.70" y="772.05" width="1.5" height="1.6" fill="#2a2a2a"/><text class="tk" transform="scale(0.885 1)" x="746.98" y="773.80">3</text>
<rect x="715.80" y="762.50" width="5.3" height="10.2" rx="2.5" ry="2.9" fill="none" stroke="#2a2a2a" stroke-width="1.65"/><rect x="724.50" y="772.05" width="1.5" height="1.6" fill="#2a2a2a"/><text class="tk" transform="scale(0.885 1)" x="821.33" y="773.80">4</text>
<rect x="781.40" y="762.50" width="5.3" height="10.2" rx="2.5" ry="2.9" fill="none" stroke="#2a2a2a" stroke-width="1.65"/><rect x="790.10" y="772.05" width="1.5" height="1.6" fill="#2a2a2a"/><text class="tk" transform="scale(0.885 1)" x="895.46" y="773.80">5</text>
<text transform="translate(415.20 468.45) skewX(-7) scale(0.8 1)" style="font-family:'Liberation Serif',serif;font-weight:bold;font-style:italic;font-size:27px;fill:#111;stroke:#111;stroke-width:0.3px">F</text>
<path d="M419.70 447.25H433.20" stroke="#111" stroke-width="1.6"/>
<text x="430.00" y="475.25" style="font-family:'Liberation Serif',serif;font-style:italic;font-size:15px;fill:#111">B</text>
<g transform="translate(746.25 778.10)" fill="none" stroke="#1a1a1a" stroke-linecap="round"><path d="M10 0.9C6.5 0.9 2.6 4.6 1.1 8.5C-0.1 11.8 1.3 14.1 4 14C7.5 13.9 11 10.5 12.7 6.6C13.9 3.8 13 0.9 10 0.9Z" stroke-width="1.0"/><path d="M5.2 2.7C3.2 4.6 1.8 6.7 1.1 8.5C0.3 10.8 0.7 12.8 2.3 13.6" stroke-width="1.8"/><path d="M8.3 12.2C10.4 10.4 11.9 8.5 12.7 6.6C13.5 4.7 13.4 3.1 12.5 2" stroke-width="1.8"/><path d="M12.4 1.7L18.8 1.7" stroke-width="1.7"/></g>
<g transform="translate(3.50 425.30)"><path d="M631.2 27.6C629.6 25.8 626.2 25.7 624.6 27.1C623.2 28.4 623.8 30.6 626.6 30.9C622.4 30.8 620.6 32.4 620.8 34.3C621 36.6 625.4 37.2 628.4 35.2" fill="none" stroke="#1a1a1a" stroke-width="1.55" stroke-linecap="round"/><path d="M636.3 30.3H645.6M636.3 33.4H645.6M709.2 30.3H719.4M709.2 33.4H719.4" stroke="#1a1a1a" stroke-width="1.35"/><text class="lg" transform="translate(645.95 37.6) scale(1.08 0.97)">6.8</text><path d="M691.4 26.6C692.8 24.6 695.6 23.9 697.2 25.1C698.2 25.9 698.4 27.4 698.6 28.8" fill="none" stroke="#1a1a1a" stroke-width="1.5" stroke-linecap="round"/><path d="M703.2 25.2L690.9 39.2" fill="none" stroke="#1a1a1a" stroke-width="1.9" stroke-linecap="round"/><text class="lg" transform="translate(719.8 37.6) scale(1.05 0.97)">0.1mm</text><g transform="translate(0 0.00)" fill="none" stroke-linecap="round"><path d="M627.9 56.7C626 55 622.4 55.3 620.2 58C618.2 60.4 617.4 63 618.6 64.4C619.8 65.6 622.6 64.6 624.6 62.6C626.2 61 627.4 59 628.1 57.2" stroke="#1a1a1a" stroke-width="1.6"/><path d="M628.7 55.6C629 58.5 628.6 61.5 628.5 64.4" stroke="#1a1a1a" stroke-width="1.7"/><path d="M629 55.6L631.5 55.3" stroke="#999" stroke-width="0.9"/></g><path d="M637.1 58.75H647M637.1 61.75H647" stroke="#1a1a1a" stroke-width="1.35"/><text class="lg" transform="translate(647.9 65.60) scale(1.03 0.97)">20</text><text class="lg" x="665.8" y="58.30" style="font-size:14px;stroke-width:0.2px">o</text><g transform="translate(0 27.00)" fill="none" stroke-linecap="round"><path d="M627.9 56.7C626 55 622.4 55.3 620.2 58C618.2 60.4 617.4 63 618.6 64.4C619.8 65.6 622.6 64.6 624.6 62.6C626.2 61 627.4 59 628.1 57.2" stroke="#1a1a1a" stroke-width="1.6"/><path d="M628.7 55.6C629 58.5 628.6 61.5 628.5 64.4" stroke="#1a1a1a" stroke-width="1.7"/><path d="M629 55.6L631.5 55.3" stroke="#999" stroke-width="0.9"/></g><path d="M637.1 85.75H647M637.1 88.75H647" stroke="#1a1a1a" stroke-width="1.35"/><text class="lg" transform="translate(647.9 92.60) scale(1.03 0.97)">15</text><text class="lg" x="665.8" y="85.30" style="font-size:14px;stroke-width:0.2px">o</text><g transform="translate(0 52.00)" fill="none" stroke-linecap="round"><path d="M627.9 56.7C626 55 622.4 55.3 620.2 58C618.2 60.4 617.4 63 618.6 64.4C619.8 65.6 622.6 64.6 624.6 62.6C626.2 61 627.4 59 628.1 57.2" stroke="#1a1a1a" stroke-width="1.6"/><path d="M628.7 55.6C629 58.5 628.6 61.5 628.5 64.4" stroke="#1a1a1a" stroke-width="1.7"/><path d="M629 55.6L631.5 55.3" stroke="#999" stroke-width="0.9"/></g><path d="M637.1 110.75H647M637.1 113.75H647" stroke="#1a1a1a" stroke-width="1.35"/><text class="lg" transform="translate(647.9 117.60) scale(1.03 0.97)">12</text><text class="lg" x="665.8" y="110.30" style="font-size:14px;stroke-width:0.2px">o</text><path d="M687 60.3H732.5" stroke="#2b2b2b" stroke-width="1.5"/><path d="M687 87H733" stroke="#a0a0a0" stroke-width="1.5" stroke-dasharray="8 12"/><path d="M688.5 111.3H734.5" stroke="#2b2b2b" stroke-width="1.6" stroke-dasharray="10 3"/></g>
<circle cx="631.5" cy="355.5" r="0.9" fill="#444"/><circle cx="631.5" cy="780.5" r="0.9" fill="#444"/>
<text class="ab" x="399" y="392">(a)</text>
<text class="ab" x="399" y="820">(b)</text>
</svg>
</body></html>
